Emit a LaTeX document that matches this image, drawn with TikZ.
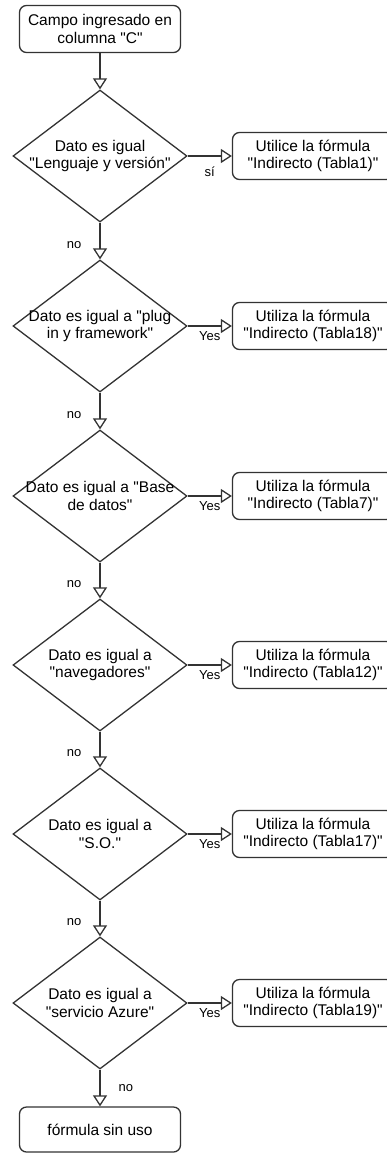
\documentclass[tikz,border=0pt]{standalone}
\usepackage{fontspec}
\setmainfont{Liberation Sans}
\usetikzlibrary{shapes.geometric,arrows.meta}
\definecolor{linegray}{HTML}{333333}
\newcommand{\dq}{\textquotedbl{}}
\begin{document}
\begin{tikzpicture}[x=1pt, y=-1pt,
    box/.style={draw=linegray, line width=1.3pt, rounded corners=7pt, minimum width=161pt, minimum height=47pt, align=center, font=\fontsize{15.5}{17.5}\selectfont},
    decision/.style={draw=linegray, line width=1.3pt, diamond, minimum width=174pt, minimum height=132pt, inner xsep=-40pt, inner ysep=0pt, align=center, font=\fontsize{15.5}{17.5}\selectfont},
    flow/.style={draw=linegray, line width=1.3pt, -{Triangle[open, length=11pt, width=14pt]}},
    lbl/.style={font=\fontsize{13}{15}\selectfont, inner sep=2pt}]
                \useasboundingbox (0,0) rectangle (386,1153);

                \node[box] (start) at (100,29) {Campo ingresado en\\columna \dq C\dq};
                \node[decision] (d1) at (100,156) {Dato es igual\\\dq Lenguaje y versión\dq};
                \node[decision] (d2) at (100,326) {Dato es igual a \dq plug\\in y framework\dq};
                \node[decision] (d3) at (100,496) {Dato es igual a \dq Base\\de datos\dq};
                \node[decision] (d4) at (100,665) {Dato es igual a\\\dq navegadores\dq};
                \node[decision] (d5) at (100,834) {Dato es igual a\\\dq S.O.\dq};
                \node[decision] (d6) at (100,1003) {Dato es igual a\\\dq servicio Azure\dq};
                \node[box, minimum height=45pt] (end) at (100,1129.5) {fórmula sin uso};

                \node[box] (r1) at (313,156) {Utilice la fórmula\\\dq Indirecto (Tabla1)\dq};
                \node[box] (r2) at (313,326) {Utiliza la fórmula\\\dq Indirecto (Tabla18)\dq};
                \node[box] (r3) at (313,496) {Utiliza la fórmula\\\dq Indirecto (Tabla7)\dq};
                \node[box] (r4) at (313,665) {Utiliza la fórmula\\\dq Indirecto (Tabla12)\dq};
                \node[box] (r5) at (313,834) {Utiliza la fórmula\\\dq Indirecto (Tabla17)\dq};
                \node[box] (r6) at (313,1003) {Utiliza la fórmula\\\dq Indirecto (Tabla19)\dq};

                \draw[flow] (start) -- (d1);
                \draw[flow] (d1.south) -- node[lbl, pos=0.6, left=16pt] {no} (d2.north);
                \draw[flow] (d2.south) -- node[lbl, pos=0.6, left=16pt] {no} (d3.north);
                \draw[flow] (d3.south) -- node[lbl, pos=0.6, left=16pt] {no} (d4.north);
                \draw[flow] (d4.south) -- node[lbl, pos=0.6, left=16pt] {no} (d5.north);
                \draw[flow] (d5.south) -- node[lbl, pos=0.6, left=16pt] {no} (d6.north);
                \draw[flow] (d6.south) -- node[lbl, pos=0.5, right=16pt] {no} (end.north);

                \draw[flow] (d1.east) -- node[lbl, below=8pt] {sí} (r1.west);
                \draw[flow] (d2.east) -- node[lbl, below=3pt] {Yes} (r2.west);
                \draw[flow] (d3.east) -- node[lbl, below=3pt] {Yes} (r3.west);
                \draw[flow] (d4.east) -- node[lbl, below=3pt] {Yes} (r4.west);
                \draw[flow] (d5.east) -- node[lbl, below=3pt] {Yes} (r5.west);
                \draw[flow] (d6.east) -- node[lbl, below=3pt] {Yes} (r6.west);
            \end{tikzpicture}
\end{document}
